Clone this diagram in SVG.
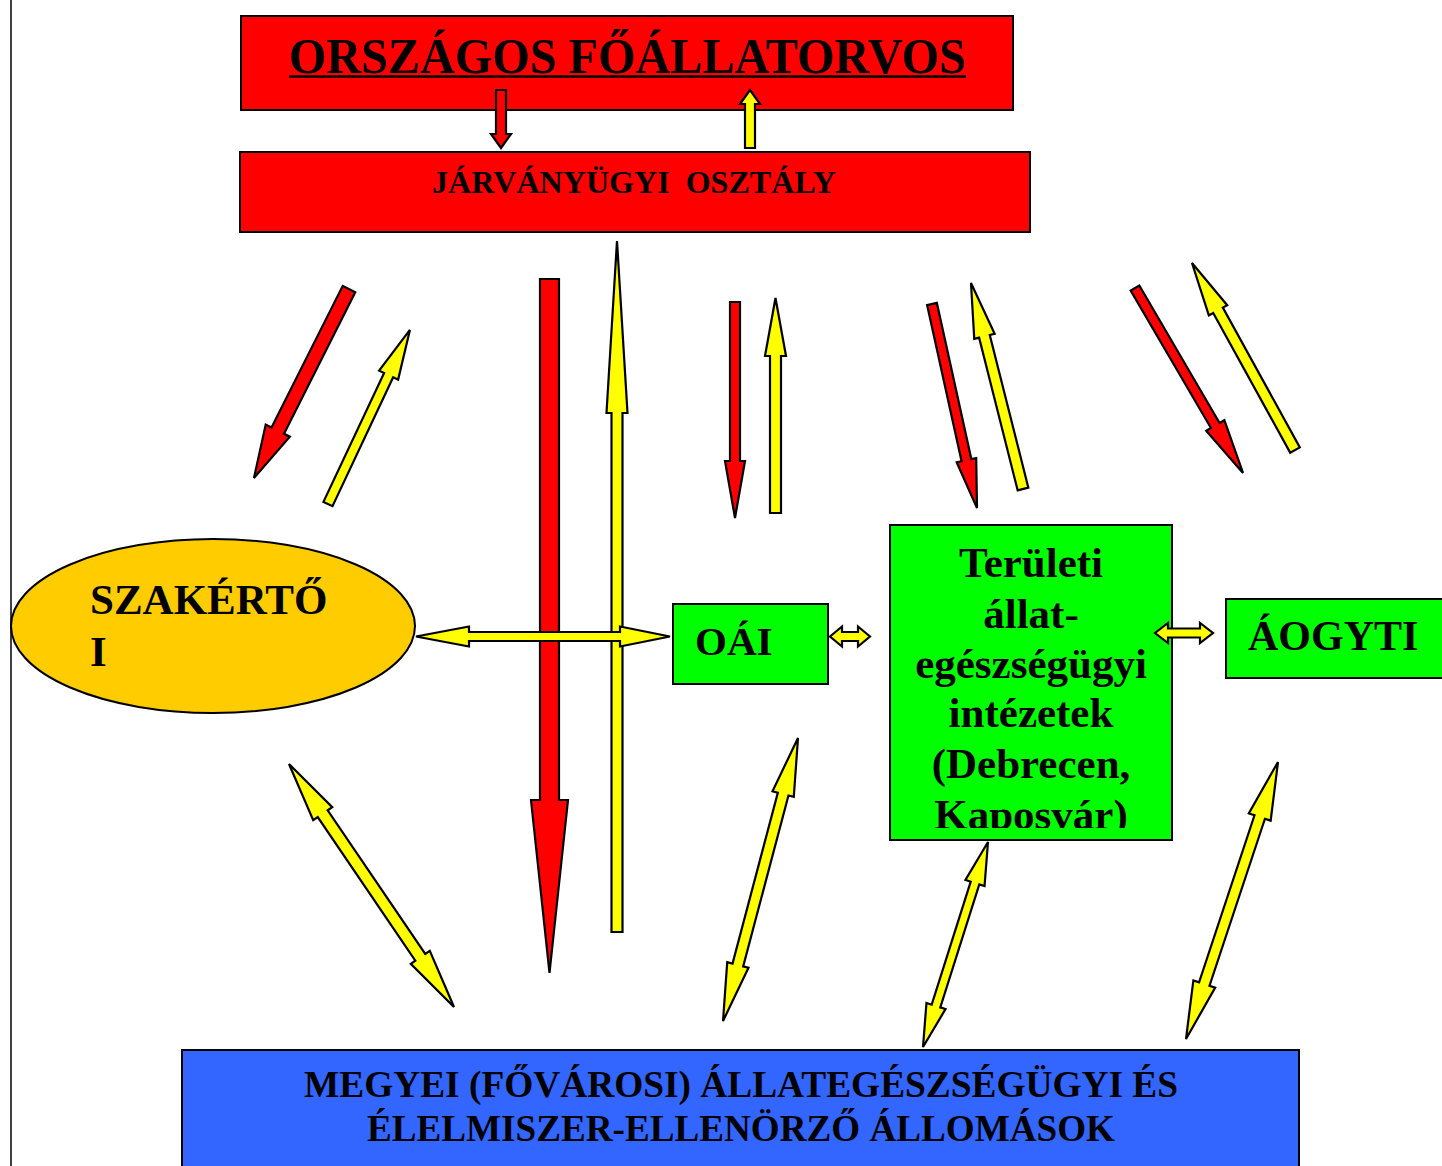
<svg xmlns="http://www.w3.org/2000/svg" width="1442" height="1166" viewBox="0 0 1442 1166">
<style>
.box{stroke:#000;stroke-width:2}
.red{fill:#FF0000;stroke:#000;stroke-width:2.2;stroke-linejoin:miter}
.yel{fill:#FFFF00;stroke:#000;stroke-width:2.2;stroke-linejoin:miter}
.t{font-family:"Liberation Serif","Times New Roman",serif;font-weight:bold;fill:#000}
</style>
<defs>
<clipPath id="clipTer"><rect x="890" y="525" width="282" height="303"/></clipPath>
</defs>
<rect width="1442" height="1166" fill="#fff"/>
<line x1="11" y1="0" x2="11" y2="1166" stroke="#000" stroke-width="1.5"/>

<g id="node-orszagos">
<rect class="box" x="241" y="16" width="772" height="94" fill="#FF0000"/>
<text class="t" x="289" y="73" font-size="50" textLength="677" lengthAdjust="spacingAndGlyphs">ORSZÁGOS FŐÁLLATORVOS</text>
<line x1="289" y1="76.5" x2="966" y2="76.5" stroke="#000" stroke-width="2.5"/>
</g>
<g id="node-jarvanyugyi">
<rect class="box" x="240" y="152" width="790" height="80" fill="#FF0000"/>
<text class="t" x="432" y="193" font-size="31" textLength="404" lengthAdjust="spacingAndGlyphs" xml:space="preserve">JÁRVÁNYÜGYI  OSZTÁLY</text>
</g>
<g id="node-szakerto">
<ellipse class="box" cx="213" cy="626" rx="202" ry="87" fill="#FFCC00"/>
<text class="t" x="90" y="614" font-size="43">SZAKÉRTŐ</text>
<text class="t" x="90" y="666" font-size="43">I</text>
</g>
<g id="node-oai">
<rect class="box" x="673" y="604" width="155" height="80" fill="#00FF00"/>
<text class="t" x="695" y="655" font-size="41">OÁI</text>
</g>
<g id="node-teruleti">
<rect class="box" x="890" y="525" width="282" height="315" fill="#00FF00"/>
<g clip-path="url(#clipTer)" text-anchor="middle">
<text class="t" x="1031" y="577" font-size="43">Területi</text>
<text class="t" x="1031" y="628" font-size="43">állat-</text>
<text class="t" x="1031" y="678" font-size="43">egészségügyi</text>
<text class="t" x="1031" y="727" font-size="43">intézetek</text>
<text class="t" x="1031" y="778" font-size="43">(Debrecen,</text>
<text class="t" x="1031" y="829" font-size="43">Kaposvár)</text>
</g>
</g>
<g id="node-aogyti">
<rect class="box" x="1226" y="599" width="230" height="79" fill="#00FF00"/>
<text class="t" x="1248" y="650" font-size="42">ÁOGYTI</text>
</g>
<g id="node-megyei">
<rect class="box" x="182" y="1050" width="1117" height="130" fill="#3366FF"/>
<text class="t" x="304" y="1097" font-size="37" textLength="874" lengthAdjust="spacingAndGlyphs">MEGYEI (FŐVÁROSI) ÁLLATEGÉSZSÉGÜGYI ÉS</text>
<text class="t" x="367" y="1141" font-size="37" textLength="748" lengthAdjust="spacingAndGlyphs">ÉLELMISZER-ELLENÖRZŐ ÁLLOMÁSOK</text>
</g>

<g id="connectors">
<path class="red" transform="translate(501,90) rotate(90)" d="M0,-5 H44 V-10 L58,0 L44,10 V5 H0 Z"/>
<path class="yel" transform="translate(750,148) rotate(-90)" d="M0,-5 H44 V-10 L58,0 L44,10 V5 H0 Z"/>

<path class="red" transform="translate(349,289) rotate(116.7)" d="M0,-7 H158.5 V-13.5 L211.5,0 L158.5,13.5 V7 H0 Z"/>
<path class="yel" transform="translate(328,504) rotate(-64.8)" d="M0,-5 H142.4 V-10.5 L192.4,0 L142.4,10.5 V5 H0 Z"/>

<path class="red" transform="translate(549.5,279) rotate(90)" d="M0,-9.5 H521 V-18.5 L694,0 L521,18.5 V9.5 H0 Z"/>
<path class="yel" transform="translate(617,932) rotate(-90)" d="M0,-5.5 H519 V-10.5 L691,0 L519,10.5 V5.5 H0 Z"/>

<path class="red" transform="translate(735,302) rotate(90)" d="M0,-5 H159 V-10 L216,0 L159,10 V5 H0 Z"/>
<path class="yel" transform="translate(775.5,513) rotate(-90)" d="M0,-5.5 H157 V-10.5 L215,0 L157,10.5 V5.5 H0 Z"/>

<path class="red" transform="translate(932,304) rotate(77.56)" d="M0,-5 H159.9 V-10 L208.9,0 L159.9,10 V5 H0 Z"/>
<path class="yel" transform="translate(1023,489) rotate(-104.17)" d="M0,-5.5 H157.5 V-10.5 L212.5,0 L157.5,10.5 V5.5 H0 Z"/>

<path class="red" transform="translate(1135,288) rotate(59.72)" d="M0,-5 H159.2 V-10.5 L214.2,0 L159.2,10.5 V5 H0 Z"/>
<path class="yel" transform="translate(1295,450) rotate(-118.85)" d="M0,-5.5 H159.5 V-10.5 L213.5,0 L159.5,10.5 V5.5 H0 Z"/>

<path class="yel" transform="translate(416,636.5)" d="M0,0 L53,-10 V-4.5 H204 V-10 L254,0 L204,10 V4.5 H53 V10 Z"/>
<path class="yel" transform="translate(830,636.5)" d="M0,0 L12,-10 V-4.5 H28 V-10 L40,0 L28,10 V4.5 H12 V10 Z"/>
<path class="yel" transform="translate(1155,633)" d="M0,0 L13,-10 V-4.5 H45 V-10 L58,0 L45,10 V4.5 H13 V10 Z"/>

<path class="yel" transform="translate(289,764) rotate(55.82)" d="M0,0 L60,-11.5 V-6 H233.7 V-11.5 L293.7,0 L233.7,11.5 V6 H60 V11.5 Z"/>
<path class="yel" transform="translate(798,738) rotate(104.84)" d="M0,0 L58,-11 V-5.5 H234.8 V-11 L292.8,0 L234.8,11 V5.5 H58 V11 Z"/>
<path class="yel" transform="translate(988,842) rotate(107.59)" d="M0,0 L43,-10 V-4.5 H172.1 V-10 L215.1,0 L172.1,10 V4.5 H43 V10 Z"/>
<path class="yel" transform="translate(1278,762) rotate(108.37)" d="M0,0 L58,-11.5 V-5.5 H233.9 V-11.5 L291.9,0 L233.9,11.5 V5.5 H58 V11.5 Z"/>
</g>
</svg>
